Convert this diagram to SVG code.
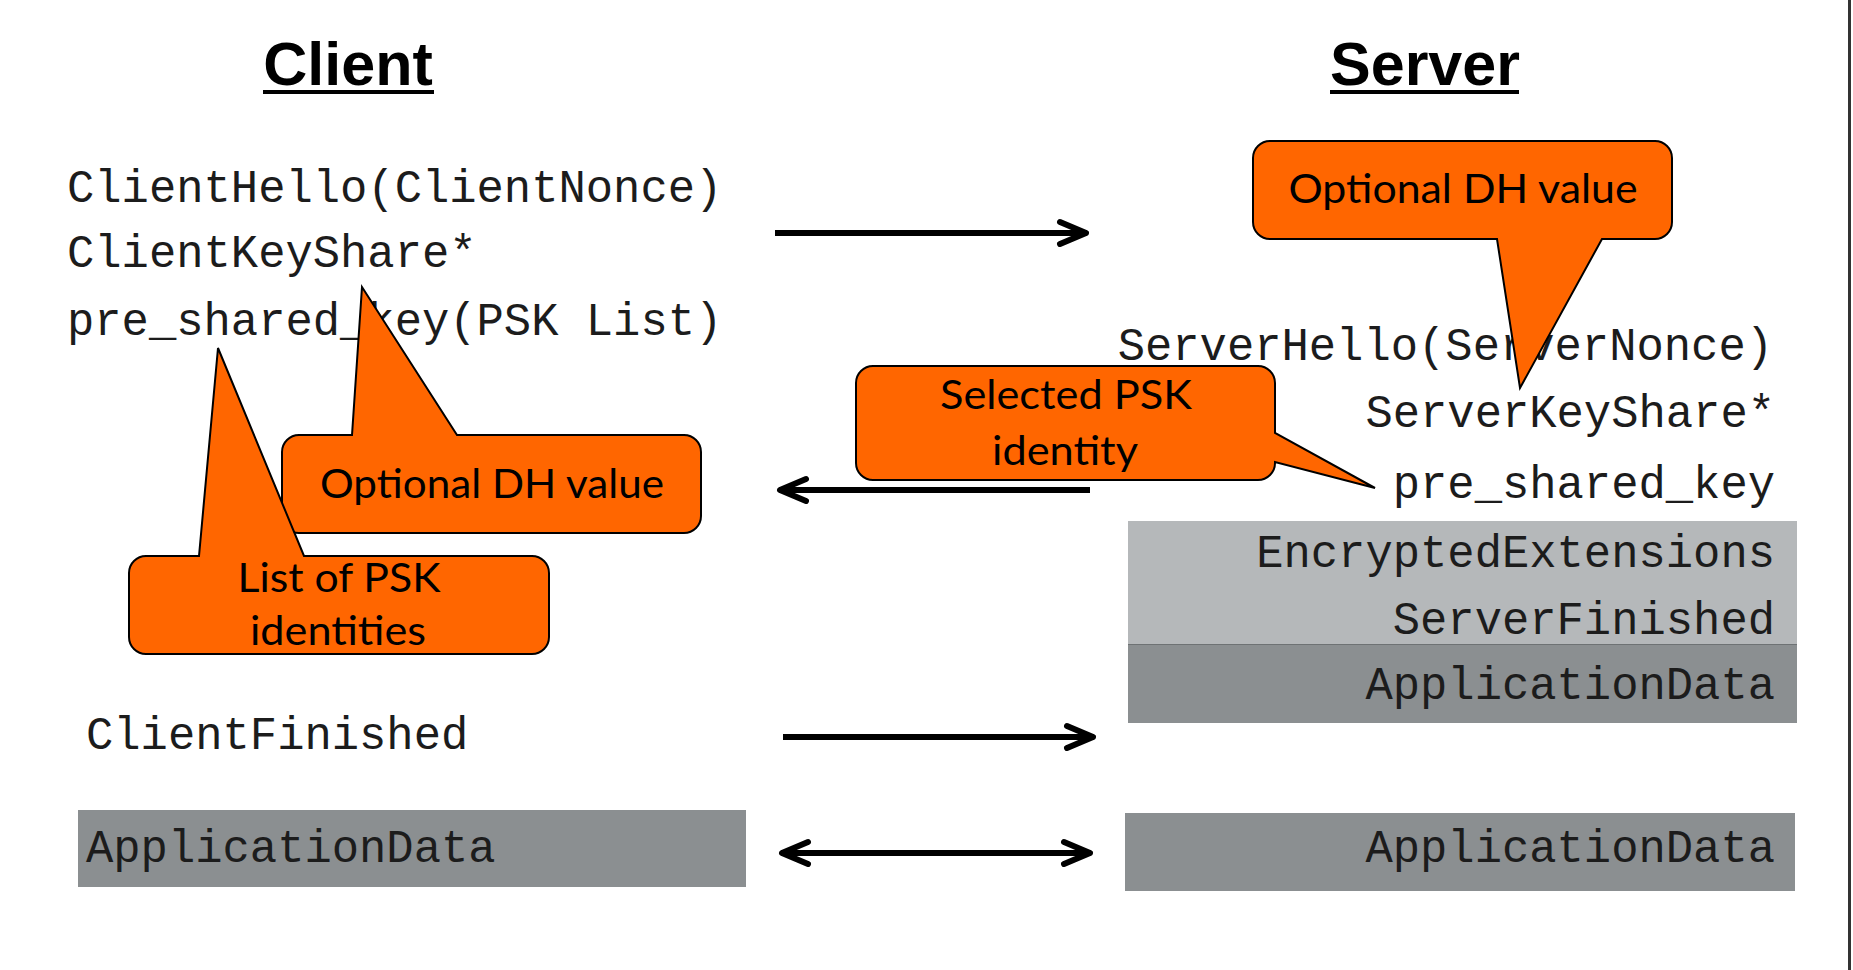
<svg xmlns="http://www.w3.org/2000/svg" width="1853" height="970" viewBox="0 0 1853 970">
<style>
.mono{font-family:"Liberation Mono","Courier New",monospace;font-size:45.5px;fill:#1c1c1c}
.title{font-family:"Liberation Sans",Arial,sans-serif;font-weight:bold;font-size:61px;fill:#000}
.call{fill:#ff6600;stroke:#000;stroke-width:2;stroke-linejoin:miter}
.ct{font-family:Lato,"Open Sans",sans-serif;font-size:40px;fill:#000;text-anchor:middle}
.arrow{stroke:#000;stroke-width:6;fill:none}
.end{text-anchor:end}
</style>
<defs>
<marker id="chev" markerUnits="userSpaceOnUse" viewBox="-34 -18 40 36" markerWidth="40" markerHeight="36" refX="0" refY="0" orient="auto-start-reverse" overflow="visible">
<path d="M-26,-11 L0,0 L-26,11" fill="none" stroke="#000" stroke-width="6" stroke-linecap="round" stroke-linejoin="round"/>
</marker>
</defs>
<rect x="0" y="0" width="1853" height="970" fill="#fff"/>
<rect x="1848" y="0" width="3" height="970" fill="#333"/>

<g id="client-title">
<text class="title" x="348" y="85" text-anchor="middle">Client</text>
<rect x="263" y="90" width="171" height="4" fill="#000"/>
</g>
<g id="server-title">
<text class="title" x="1425" y="85" text-anchor="middle">Server</text>
<rect x="1330" y="90" width="189" height="4" fill="#000"/>
</g>

<g id="client-messages">
<text class="mono" x="67" y="202">ClientHello(ClientNonce)</text>
<text class="mono" x="67" y="267">ClientKeyShare*</text>
<text class="mono" x="67" y="335">pre_shared_key(PSK List)</text>
</g>

<g id="server-encrypted">
<rect x="1128" y="521" width="669" height="123" fill="#b5b8ba"/>
<rect x="1128" y="644" width="669" height="79" fill="#8b8f91"/>
<line x1="1128" y1="644.5" x2="1797" y2="644.5" stroke="#6e7274" stroke-width="1"/>
<text class="mono end" x="1775" y="567">EncryptedExtensions</text>
<text class="mono end" x="1775" y="634">ServerFinished</text>
<text class="mono end" x="1775" y="699">ApplicationData</text>
</g>

<g id="server-messages">
<text class="mono end" x="1773" y="360">ServerHello(ServerNonce)</text>
<text class="mono end" x="1775" y="427">ServerKeyShare*</text>
<text class="mono end" x="1775" y="498">pre_shared_key</text>
</g>

<g id="client-finished">
<text class="mono" x="86" y="749">ClientFinished</text>
</g>

<g id="client-appdata">
<rect x="78" y="810" width="668" height="77" fill="#8b8f91"/>
<text class="mono" x="86" y="862">ApplicationData</text>
</g>

<g id="server-appdata">
<rect x="1125" y="813" width="670" height="78" fill="#8b8f91"/>
<text class="mono end" x="1775" y="862">ApplicationData</text>
</g>

<g id="connectors">
<line class="arrow" x1="775" y1="233" x2="1086" y2="233" marker-end="url(#chev)"/>
<line class="arrow" x1="1090" y1="490" x2="780" y2="490" marker-end="url(#chev)"/>
<line class="arrow" x1="783" y1="737" x2="1093" y2="737" marker-end="url(#chev)"/>
<line class="arrow" x1="782" y1="853" x2="1090" y2="853" marker-start="url(#chev)" marker-end="url(#chev)"/>
</g>

<g id="callout-server-dh">
<path class="call" d="M1270,141 H1655 A17,17 0 0 1 1672,158 V222 A17,17 0 0 1 1655,239 H1602 L1520,388 L1497,239 H1270 A17,17 0 0 1 1253,222 V158 A17,17 0 0 1 1270,141 Z"/>
<text class="ct" x="1463" y="203" textLength="349" lengthAdjust="spacingAndGlyphs">Optional DH value</text>
</g>

<g id="callout-selected-psk">
<path class="call" d="M873,366 H1258 A17,17 0 0 1 1275,383 V433 L1375,488 L1275,462 V463 A17,17 0 0 1 1258,480 H873 A17,17 0 0 1 856,463 V383 A17,17 0 0 1 873,366 Z"/>
<text class="ct" x="1066" y="409" textLength="252" lengthAdjust="spacingAndGlyphs">Selected PSK</text>
<text class="ct" x="1065" y="465" textLength="146" lengthAdjust="spacingAndGlyphs">identity</text>
</g>

<g id="callout-client-dh">
<path class="call" d="M299,435 H352 L362,287 L457,435 H684 A17,17 0 0 1 701,452 V516 A17,17 0 0 1 684,533 H299 A17,17 0 0 1 282,516 V452 A17,17 0 0 1 299,435 Z"/>
<text class="ct" x="492" y="498" textLength="344" lengthAdjust="spacingAndGlyphs">Optional DH value</text>
</g>

<g id="callout-psk-list">
<path class="call" d="M146,556 H199 L218,348 L304,556 H532 A17,17 0 0 1 549,573 V637 A17,17 0 0 1 532,654 H146 A17,17 0 0 1 129,637 V573 A17,17 0 0 1 146,556 Z"/>
<text class="ct" x="339" y="592" textLength="203" lengthAdjust="spacingAndGlyphs">List of PSK</text>
<text class="ct" x="338" y="645" textLength="176" lengthAdjust="spacingAndGlyphs">identities</text>
</g>
</svg>
